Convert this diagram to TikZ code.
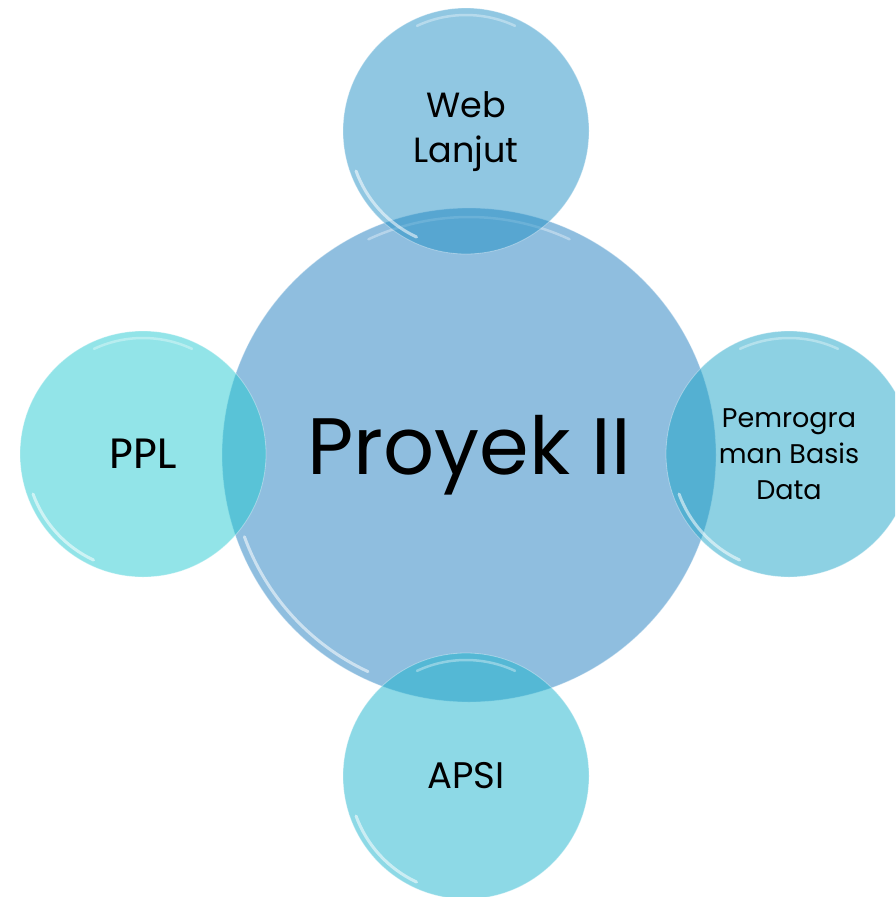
\documentclass[tikz,border=0pt]{standalone}
\usepackage{fontspec}
\setmainfont{Poppins}
\newfontfamily\calib{Carlito}
\definecolor{cmain}{RGB}{143,190,223}
\definecolor{ctop}{RGB}{33,143,197}
\definecolor{cleft}{RGB}{37,201,209}
\definecolor{cright}{RGB}{27,163,199}
\definecolor{cbot}{RGB}{27,179,205}
\tikzset{
  bubble/.style={circle, inner sep=0pt, minimum size=246pt, fill=#1, fill opacity=0.5, text opacity=1, draw=white, draw opacity=0.35, line width=0.8pt, align=center, text=black},
  mainbubble/.style={circle, inner sep=0pt, minimum size=494pt, fill=cmain, draw=white, draw opacity=0.4, line width=0.8pt, align=center, text=black},
  gloss/.style={white, line width=3pt, opacity=0.55, line cap=round},
  glosstop/.style={white, line width=2.5pt, opacity=0.35, line cap=round}
}
\begin{document}
\begin{tikzpicture}[x=1pt,y=-1pt]
\useasboundingbox (0,0) rectangle (895,897);
\clip (0,0) rectangle (895,897);
\node[mainbubble, font=\fontsize{80}{90}\selectfont] (main) at (469,455) {Proyek II};
\draw[gloss] (main.center) ++(115:239) arc[start angle=115, end angle=160, radius=239];
\draw[glosstop] (main.center) ++(245:238) arc[start angle=245, end angle=295, radius=238];
\node[bubble=ctop, font=\fontsize{35}{47}\selectfont] (web) at (466,131) {\raisebox{-5pt}{\begin{tabular}{@{}c@{}}Web\\[-2pt]Lanjut\end{tabular}}};
\node[bubble=cleft, font=\calib\fontsize{46}{50}\selectfont] (ppl) at (143,454) {PPL};
\node[bubble=cright, font=\fontsize{27}{36}\selectfont] (pbd) at (789,454) {Pemrogra\\man Basis\\Data};
\node[bubble=cbot, font=\fontsize{37}{44}\selectfont] (apsi) at (466,776) {APSI};
\foreach \n in {web,ppl,pbd,apsi}{
  \draw[gloss] (\n.center) ++(115:117) arc[start angle=115, end angle=160, radius=117];
  \draw[glosstop] (\n.center) ++(245:116) arc[start angle=245, end angle=295, radius=116];
}
\end{tikzpicture}
\end{document}
